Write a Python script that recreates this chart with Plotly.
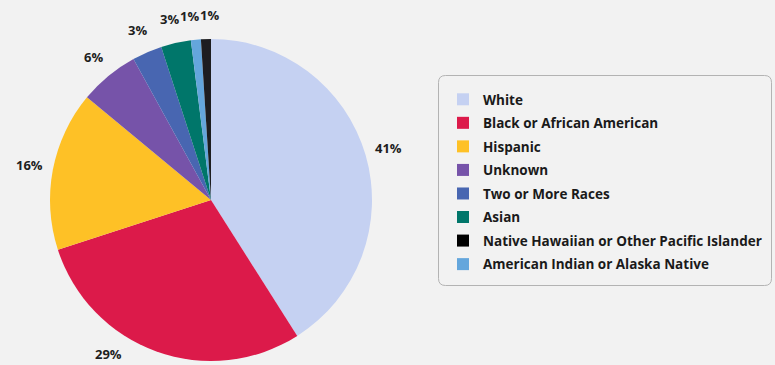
import math
import plotly.graph_objects as go

# Student enrollment by race / ethnicity (percent)
categories = [
    "White",
    "Black or African American",
    "Hispanic",
    "Unknown",
    "Two or More Races",
    "Asian",
    "American Indian or Alaska Native",
    "Native Hawaiian or Other Pacific Islander",
]
shares = [41, 29, 16, 6, 3, 3, 1, 1]
colors = [
    "#c5d1f2",
    "#dc1a4a",
    "#fec126",
    "#7653a9",
    "#4866b1",
    "#00766a",
    "#64a6dc",
    "#1d1d20",
]

# legend listing order
legend_order = [
    "White",
    "Black or African American",
    "Hispanic",
    "Unknown",
    "Two or More Races",
    "Asian",
    "Native Hawaiian or Other Pacific Islander",
    "American Indian or Alaska Native",
]
legend_colors = {c: ("#000000" if c.startswith("Native") else col) for c, col in zip(categories, colors)}

W, H = 775, 365
FONT = "Open Sans"

# pie geometry (pixels)
CX, CY, R = 211, 200, 161
LABEL_R = R + 24
LABEL_MAX_Y = 354
CHAR_W = 8         # approximate glyph width of the label font
MIN_SPACE = 4      # horizontal breathing room between neighbouring labels

fig = go.Figure()
fig.add_trace(go.Pie(
    labels=categories,
    values=shares,
    sort=False,
    direction="clockwise",
    rotation=0,
    marker=dict(colors=colors, line=dict(width=0)),
    textposition="none",
    showlegend=False,
    hoverinfo="label+percent",
    domain=dict(x=[(CX - R) / W, (CX + R) / W], y=[(H - CY - R) / H, (H - CY + R) / H]),
))

# percentage labels just outside each slice, at its mid angle
labels = []
total = sum(shares)
cum = 0
for value in shares:
    theta = 2 * math.pi * (cum + value / 2) / total  # clockwise from 12 o'clock
    cum += value
    dx, dy = math.sin(theta), math.cos(theta)
    px, py = CX + LABEL_R * dx, CY - LABEL_R * dy
    if py > LABEL_MAX_Y:  # slide along the label ring to stay on the canvas
        ang = math.acos((LABEL_MAX_Y - CY) / LABEL_R)
        px = CX + math.copysign(LABEL_R * math.sin(ang), dx)
        py = LABEL_MAX_Y
    text = f"{value}%"
    labels.append([px, py, text])

# push apart neighbouring labels that would collide
for _ in range(8):
    for a, b in zip(labels, labels[1:]):
        if abs(a[1] - b[1]) < 12:
            need = (len(a[2]) + len(b[2])) * CHAR_W / 2 + MIN_SPACE
            gap = abs(b[0] - a[0])
            if gap < need:
                shift = (need - gap) / 2
                if a[0] <= b[0]:
                    a[0] -= shift
                    b[0] += shift
                else:
                    a[0] += shift
                    b[0] -= shift

annotations = [
    dict(
        x=px / W, y=(H - py) / H, xref="paper", yref="paper",
        text=text, showarrow=False, xanchor="center", yanchor="middle",
        font=dict(family=FONT, size=13, color="#1e1e1e", weight="bold"),
    )
    for px, py, text in labels
]

for name in legend_order:
    fig.add_trace(go.Scatter(
        x=[None], y=[None], mode="markers", name=name, legendgroup=name,
        marker=dict(symbol="square", size=12, color=legend_colors[name]),
    ))

# rounded frame around the legend
x0, x1 = 438.5 / W, 771.5 / W
y0, y1 = (H - 285.5) / H, (H - 75.5) / H
rx, ry = 7 / W, 7 / H
path = (
    f"M {x0 + rx},{y1} L {x1 - rx},{y1} Q {x1},{y1} {x1},{y1 - ry} "
    f"L {x1},{y0 + ry} Q {x1},{y0} {x1 - rx},{y0} "
    f"L {x0 + rx},{y0} Q {x0},{y0} {x0},{y0 + ry} "
    f"L {x0},{y1 - ry} Q {x0},{y1} {x0 + rx},{y1} Z"
)

fig.update_layout(
    width=W, height=H,
    margin=dict(l=0, r=0, t=0, b=0, autoexpand=False),
    paper_bgcolor="#f2f2f2",
    plot_bgcolor="#f2f2f2",
    xaxis=dict(visible=False),
    yaxis=dict(visible=False),
    annotations=annotations,
    shapes=[dict(type="path", path=path, xref="paper", yref="paper",
                 line=dict(color="#b3b3b3", width=1), fillcolor="rgba(0,0,0,0)")],
    legend=dict(
        x=443 / W, y=(H - 84) / H, xanchor="left", yanchor="top",
        bgcolor="rgba(0,0,0,0)", borderwidth=0,
        font=dict(family=FONT, size=13.5, color="#1a1a1a", weight="bold"),
        tracegroupgap=3,
    ),
)

fig.write_html("out.html")
